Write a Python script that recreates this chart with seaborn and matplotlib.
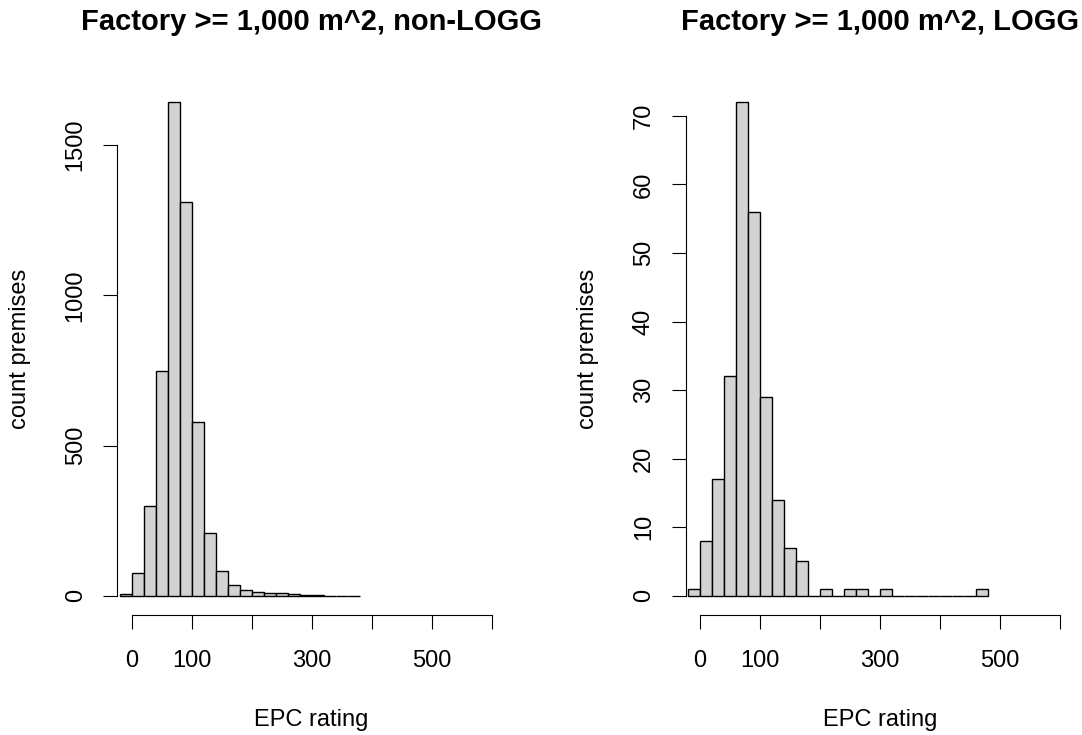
import numpy as np
import pandas as pd
import matplotlib
matplotlib.use("Agg")
import matplotlib.pyplot as plt
import seaborn as sns

# bin start (EPC rating), width 20
bins_non_logg = [-20, 0, 20, 40, 60, 80, 100, 120, 140, 160, 180, 200, 220, 240,
                 260, 280, 300, 320, 340, 360]
counts_non_logg = [5, 77, 297, 747, 1643, 1311, 579, 210, 81, 36, 19, 13, 9, 9,
                   4, 3, 3, 0, 0, 0]

bins_logg = [-20, 0, 20, 40, 60, 80, 100, 120, 140, 160, 180, 200, 220, 240,
             260, 280, 300, 320, 340, 360, 380, 400, 420, 440, 460]
counts_logg = [1, 8, 17, 32, 72, 56, 29, 14, 7, 5, 0, 1, 0, 1,
               1, 0, 1, 0, 0, 0, 0, 0, 0, 0, 1]

titles = ["Factory >= 1,000 m^2, non-LOGG", "Factory >= 1,000 m^2, LOGG"]
yticks = [[0, 500, 1000, 1500], [0, 10, 20, 30, 40, 50, 60, 70]]
xticks = [0, 100, 200, 300, 400, 500, 600]
xticklabels = ["0", "100", "", "300", "", "500", ""]
bin_width = 20

sns.set_style("white")
plt.rcParams['font.family'] = ['Liberation Sans', 'DejaVu Sans']
plt.rcParams['text.color'] = 'black'
plt.rcParams['axes.labelcolor'] = 'black'

fig = plt.figure(figsize=(10.82, 7.35), dpi=100)
axes = [fig.add_axes([0.1084, 0.1627, 0.3593, 0.7251]),
        fig.add_axes([0.6336, 0.1627, 0.3593, 0.7251])]

panels = [(bins_non_logg, counts_non_logg), (bins_logg, counts_logg)]
for i, (ax, (starts, counts)) in enumerate(zip(axes, panels)):
    df = pd.DataFrame({"epc": np.array(starts) + bin_width / 2, "n": counts})
    edges = list(starts) + [starts[-1] + bin_width]
    sns.histplot(data=df, x="epc", weights="n", bins=edges, ax=ax,
                 color="#d3d3d3", edgecolor="black", linewidth=1.0, alpha=1)
    ymax = max(counts)
    ax.set_xlim(-24, 624)
    ax.set_ylim(-0.04 * ymax, 1.04 * ymax)
    ax.set_xticks(xticks)
    ax.set_xticklabels(xticklabels)
    ax.set_yticks(yticks[i])
    for lab in ax.get_yticklabels():
        lab.set_rotation(90)
        lab.set_va("center")
    ax.tick_params(length=10, width=0.8, labelsize=17, pad=12, color="black",
                   labelcolor="black", bottom=True, left=True)
    ax.tick_params(axis="x", pad=15)
    for s in ["top", "right"]:
        ax.spines[s].set_visible(False)
    ax.spines["bottom"].set_bounds(0, 600)
    ax.spines["left"].set_bounds(0, yticks[i][-1])
    for s in ["bottom", "left"]:
        ax.spines[s].set_color("black")
        ax.spines[s].set_linewidth(0.8)
    ax.set_title(titles[i], fontsize=21, fontweight="bold", pad=0, y=1.113,
                 va="center", color="black")
    ax.set_xlabel("EPC rating", fontsize=17, va="center")
    ax.set_ylabel("count premises", fontsize=17, va="center")
    ax.xaxis.set_label_coords(0.5, -0.196)
    ax.yaxis.set_label_coords(-0.25, 0.5)
    ax.grid(False)

fig.savefig("out.png", dpi=100)
